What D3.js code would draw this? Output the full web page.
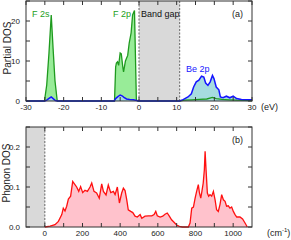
<!DOCTYPE html>
<html>
<head>
<meta charset="utf-8">
<script src="https://cdn.jsdelivr.net/npm/d3@7"></script>
<style>
  body { margin: 0; background: #fff; }
  svg { display: block; font-family: "Liberation Sans", Arial, sans-serif; }
</style>
</head>
<body>
<svg id="chart" width="291" height="240"></svg>
<script>
// electronic partial DOS (eV, states)
const fEnergy = [-30, -25.1, -24.5, -23.9, -23.3, -22.8, -22.3, -21.7, -6.5, -6.2, -6.0, -5.7, -5.4, -5.0, -4.7, -4.3, -4.1, -3.6, -3.0, -2.6, -2.1, -1.7, -1.2, -0.7, -0.3, 10.8, 12, 14, 16, 18, 19.5, 20.5, 22, 24, 26, 30];
const fDos    = [0, 0, 4, 12, 21.5, 13, 5, 0, 0, 8.5, 9.5, 9.8, 8.9, 12, 11.8, 8.5, 7.3, 10, 11.4, 14.5, 17, 21.5, 22.6, 0.3, 0, 0, 0.2, 0.3, 0.4, 0.5, 0.9, 0.6, 0.4, 0.3, 0.2, 0.1];
const beEnergy = [-30, -25, -24.5, -23.8, -23.3, -22.8, -22.2, -21.5, -6.6, -6.2, -5.6, -5.0, -4.5, -4.0, -3.3, -2.5, -1.5, -0.6, 0, 10.8, 11.7, 13.0, 13.9, 14.5, 15.2, 15.9, 16.6, 17.2, 17.7, 18.3, 18.9, 19.5, 19.9, 20.5, 21.2, 21.6, 22.3, 23.2, 24.1, 25.0, 25.9, 27.2, 30];
const beDos    = [0, 0, 0.2, 0.7, 1.0, 0.6, 0.1, 0, 0, 0.6, 1.1, 1.5, 1.3, 0.9, 0.5, 0.35, 0.3, 0.1, 0, 0, 0.35, 1.0, 1.8, 3.5, 4.8, 5.2, 6.2, 6.0, 4.5, 3.9, 4.8, 6.4, 5.6, 3.5, 2.8, 1.0, 0.8, 1.2, 0.8, 1.2, 0.6, 0.35, 0.3];
const bandGap = [0, 10.8];

// phonon DOS (cm^-1)
const phFreq = [0, 28, 54, 72, 90, 98, 107, 116, 125, 137, 148, 157, 169, 180, 190, 201, 213, 226, 240, 249, 261, 275, 289, 302, 311, 325, 337, 350, 364, 373, 385, 396, 408, 417, 426, 435, 443, 456, 467, 479, 491, 506, 515, 532, 550, 568, 580, 589, 597, 612, 626, 638, 650, 661, 673, 686, 700, 714, 730, 762, 771, 780, 789, 798, 806, 815, 821, 828, 834, 841, 847, 851, 856, 863, 870, 877, 886, 895, 904, 912, 921, 930, 939, 948, 957, 965, 974, 983, 992, 1001, 1010, 1019, 1036, 1050, 1063, 1075];
const phDos  = [0, 0.002, 0.006, 0.014, 0.031, 0.047, 0.04, 0.052, 0.07, 0.077, 0.114, 0.108, 0.1, 0.089, 0.101, 0.086, 0.092, 0.089, 0.1, 0.11, 0.089, 0.085, 0.072, 0.108, 0.089, 0.08, 0.105, 0.086, 0.089, 0.081, 0.1, 0.06, 0.085, 0.097, 0.091, 0.068, 0.043, 0.039, 0.036, 0.027, 0.025, 0.031, 0.022, 0.027, 0.028, 0.028, 0.031, 0.039, 0.028, 0.025, 0.027, 0.032, 0.035, 0.027, 0.018, 0.012, 0.005, 0.0015, 0, 0, 0.01, 0.047, 0.05, 0.072, 0.089, 0.106, 0.085, 0.072, 0.089, 0.11, 0.143, 0.189, 0.143, 0.085, 0.077, 0.081, 0.077, 0.089, 0.068, 0.043, 0.039, 0.056, 0.081, 0.068, 0.064, 0.052, 0.053, 0.047, 0.05, 0.039, 0.031, 0.025, 0.025, 0.02, 0.01, 0];

const eTicks = [-30, -20, -10, 0, 10, 20, 30];
const pdosTicks = [0, 10, 20];
const wTicks = [0, 200, 400, 600, 800, 1000];
const phTicks = [0, 0.1, 0.2];

const svg = d3.select("#chart");
const left = 26, right = 252;
const ink = "#333";

function panel(top, bottom, x, y, minorX, minorY) {
  const g = svg.append("g");
  // inward ticks on all four sides
  minorX.forEach(v => {
    g.append("line").attr("x1", x(v)).attr("x2", x(v)).attr("y1", bottom).attr("y2", bottom - 4).attr("stroke", ink);
    g.append("line").attr("x1", x(v)).attr("x2", x(v)).attr("y1", top).attr("y2", top + 4).attr("stroke", ink);
  });
  minorY.forEach(v => {
    g.append("line").attr("x1", left).attr("x2", left + 4).attr("y1", y(v)).attr("y2", y(v)).attr("stroke", ink);
    g.append("line").attr("x1", right).attr("x2", right - 4).attr("y1", y(v)).attr("y2", y(v)).attr("stroke", ink);
  });
  return g;
}

// ---------- (a) partial DOS ----------
const xa = d3.scaleLinear().domain([-30, 30]).range([left, right]);
const ya = d3.scaleLinear().domain([0, 25]).range([101, 1]);

svg.append("rect")
  .attr("x", xa(bandGap[0])).attr("y", ya(25))
  .attr("width", xa(bandGap[1]) - xa(bandGap[0])).attr("height", ya(0) - ya(25))
  .attr("fill", "#d9d9d9");
bandGap.forEach(v => {
  svg.append("line").attr("x1", xa(v)).attr("x2", xa(v)).attr("y1", ya(25)).attr("y2", ya(0))
    .attr("stroke", "#666").attr("stroke-dasharray", "2,1.5");
});

const fData = fEnergy.map((e, i) => [e, fDos[i]]);
const beData = beEnergy.map((e, i) => [e, beDos[i]]);
const areaA = d3.area().x(d => xa(d[0])).y0(ya(0)).y1(d => ya(d[1]));
const lineA = d3.line().x(d => xa(d[0])).y(d => ya(d[1]));

svg.append("path").datum(fData).attr("d", areaA).attr("fill", "#98ec98");
svg.append("path").datum(beData).attr("d", areaA).attr("fill", "#a6dcdf");
svg.append("path").datum(fData).attr("d", lineA).attr("fill", "none").attr("stroke", "#1e9a1e").attr("stroke-width", 1.3);
svg.append("path").datum(beData).attr("d", lineA).attr("fill", "none").attr("stroke", "#1414ff").attr("stroke-width", 1.5);

panel(1, 101, xa, ya, d3.range(-30, 31, 5), d3.range(0, 26, 5));
svg.append("rect").attr("x", left).attr("y", 1).attr("width", right - left).attr("height", 100)
  .attr("fill", "none").attr("stroke", ink);

svg.append("g").selectAll("text").data(eTicks).join("text")
  .attr("x", d => xa(d)).attr("y", 109.5).attr("text-anchor", "middle")
  .attr("font-size", 8).attr("fill", "#222").text(d => d);
svg.append("g").selectAll("text").data(pdosTicks).join("text")
  .attr("x", 20).attr("y", d => ya(d) + 2.5).attr("text-anchor", "end")
  .attr("font-size", 8).attr("fill", "#222").text(d => d);

svg.append("text").attr("transform", "translate(10.5,48) rotate(-90)").attr("text-anchor", "middle")
  .attr("font-size", 10).attr("fill", "#222").text("Partial DOS");
svg.append("text").attr("x", 261).attr("y", 110).attr("font-size", 9).attr("fill", "#222").text("(eV)");
svg.append("text").attr("x", 232).attr("y", 17).attr("font-size", 9).attr("fill", "#222").text("(a)");
svg.append("text").attr("x", 141).attr("y", 17).attr("font-size", 9).attr("fill", "#111").text("Band gap");
svg.append("text").attr("x", 32).attr("y", 17).attr("font-size", 9).attr("fill", "#22a022").text("F 2s");
svg.append("text").attr("x", 113).attr("y", 17).attr("font-size", 9).attr("fill", "#22a022").text("F 2p");
svg.append("text").attr("x", 186).attr("y", 72).attr("font-size", 9).attr("fill", "#2020ff").text("Be 2p");

// ---------- (b) phonon DOS ----------
const xb = d3.scaleLinear().domain([-100, 1100]).range([left, right]);
const yb = d3.scaleLinear().domain([0, 0.25]).range([227, 127]);

svg.append("rect")
  .attr("x", xb(-100)).attr("y", yb(0.25))
  .attr("width", xb(0) - xb(-100)).attr("height", yb(0) - yb(0.25))
  .attr("fill", "#d9d9d9");
svg.append("line").attr("x1", xb(0)).attr("x2", xb(0)).attr("y1", yb(0.25)).attr("y2", yb(0))
  .attr("stroke", "#666").attr("stroke-dasharray", "2,1.5");

const phData = phFreq.map((w, i) => [w, phDos[i]]);
svg.append("path").datum(phData)
  .attr("d", d3.area().x(d => xb(d[0])).y0(yb(0)).y1(d => yb(d[1])))
  .attr("fill", "#ffc2cc");
svg.append("path").datum(phData)
  .attr("d", d3.line().x(d => xb(d[0])).y(d => yb(d[1])))
  .attr("fill", "none").attr("stroke", "#ff1010").attr("stroke-width", 1.3);

panel(127, 227, xb, yb, d3.range(0, 1100, 100), d3.range(0, 0.251, 0.05));
svg.append("rect").attr("x", left).attr("y", 127).attr("width", right - left).attr("height", 100)
  .attr("fill", "none").attr("stroke", ink);

svg.append("g").selectAll("text").data(wTicks).join("text")
  .attr("x", d => xb(d)).attr("y", 235.5).attr("text-anchor", "middle")
  .attr("font-size", 8).attr("fill", "#222").text(d => d);
svg.append("g").selectAll("text").data(phTicks).join("text")
  .attr("x", 20).attr("y", d => yb(d) + 2.5).attr("text-anchor", "end")
  .attr("font-size", 8).attr("fill", "#222").text(d => d.toFixed(1));

svg.append("text").attr("transform", "translate(9.5,173) rotate(-90)").attr("text-anchor", "middle")
  .attr("font-size", 10).attr("fill", "#222").text("Phonon DOS");
svg.append("text").attr("x", 232).attr("y", 143).attr("font-size", 9).attr("fill", "#222").text("(b)");
const unit = svg.append("text").attr("x", 267).attr("y", 236).attr("font-size", 9).attr("fill", "#222");
unit.append("tspan").text("(cm");
unit.append("tspan").attr("font-size", 6).attr("dy", -4).text("-1");
unit.append("tspan").attr("dy", 4).text(")");
</script>
</body>
</html>
